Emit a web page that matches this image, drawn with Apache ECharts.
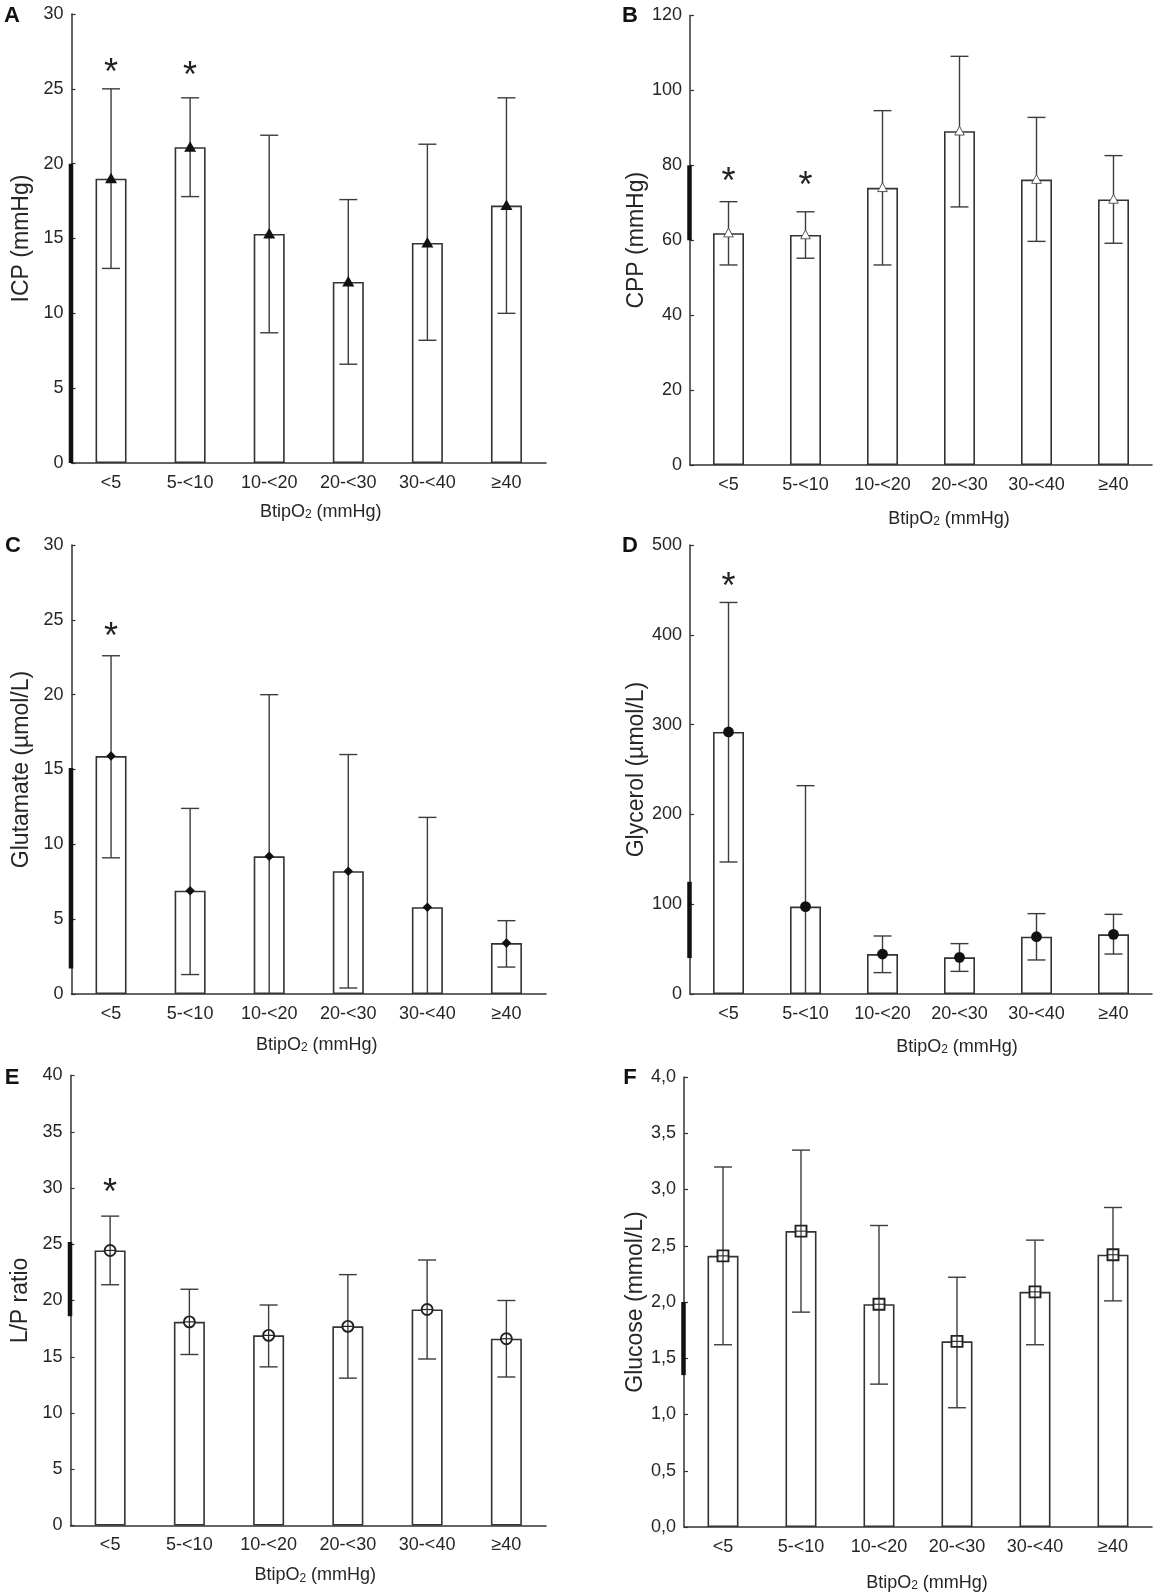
<!DOCTYPE html>
<html>
<head>
<meta charset="utf-8">
<script src="https://cdn.jsdelivr.net/npm/echarts/dist/echarts.min.js"></script>
<style>
html,body{margin:0;padding:0;background:#fff;}
#chart{width:1158px;height:1593px;}
</style>
</head>
<body>
<div id="chart"></div>
<script>
// ---------------- DATA ----------------
const categories = ['<5', '5-<10', '10-<20', '20-<30', '30-<40', '≥40'];

const icpMean  = [19.0, 21.1, 15.3, 12.1, 14.7, 17.2];
const icpUpper = [25.0, 24.4, 21.9, 17.6, 21.3, 24.4];
const icpLower = [13.0, 17.8, 8.7, 6.6, 8.2, 10.0];
const icpStar  = [26.6, 26.4, null, null, null, null];
const icpRange = [0, 20];

const cppMean  = [61.9, 61.4, 74.0, 89.1, 76.2, 70.9];
const cppUpper = [70.3, 67.6, 94.6, 109.1, 92.8, 82.6];
const cppLower = [53.4, 55.2, 53.4, 68.9, 59.7, 59.2];
const cppStar  = [77.7, 76.8, null, null, null, null];
const cppRange = [60, 80];

const gluMean  = [15.9, 6.9, 9.2, 8.2, 5.8, 3.4];
const gluUpper = [22.6, 12.4, 20.0, 16.0, 11.8, 4.9];
const gluLower = [9.1, 1.3, null, 0.4, null, 1.8];
const gluStar  = [24.4, null, null, null, null, null];
const gluRange = [1.7, 15.1];

const glyMean  = [291.8, 97.3, 44.5, 40.8, 63.8, 66.4];
const glyUpper = [436, 232, 64.6, 56.1, 89.5, 88.7];
const glyLower = [147, null, 23.8, 25.2, 37.9, 44.5];
const glyStar  = [462, null, null, null, null, null];
const glyRange = [40, 125];

const lpMean  = [24.45, 18.1, 16.9, 17.7, 19.2, 16.6];
const lpUpper = [27.5, 21.0, 19.6, 22.3, 23.6, 20.0];
const lpLower = [21.4, 15.2, 14.1, 13.1, 14.8, 13.2];
const lpStar  = [30.3, null, null, null, null, null];
const lpRange = [18.6, 25.2];

const glcMean  = [2.41, 2.63, 1.98, 1.65, 2.09, 2.42];
const glcUpper = [3.20, 3.35, 2.68, 2.22, 2.55, 2.84];
const glcLower = [1.62, 1.91, 1.27, 1.06, 1.62, 2.01];
const glcStar  = [null, null, null, null, null, null];
const glcRange = [1.35, 2.0];

const xTitle = '{a|BtipO}{s|2}{a| (mmHg)}';

// ---------------- LAYOUT ----------------
const FONT = 'Liberation Sans, Arial, Helvetica, sans-serif';
const TXT = '#262626';
const AX = '#333333';

const panels = [
  {letter:'A', lx:12, ly:16, grid:{left:71.5, top:14, width:474.5, height:449},
   max:30, interval:5, yName:'ICP (mmHg)', yGap:38, xGap:40, xDx:12,
   mean:icpMean, upper:icpUpper, lower:icpLower, star:icpStar, range:icpRange, marker:'triFilled'},
  {letter:'B', lx:630, ly:16, grid:{left:690, top:15.5, width:462, height:449.5},
   max:120, interval:20, yName:'CPP (mmHg)', yGap:36, xGap:45, xDx:28,
   mean:cppMean, upper:cppUpper, lower:cppLower, star:cppStar, range:cppRange, marker:'triOpen'},
  {letter:'C', lx:13, ly:546, grid:{left:71.5, top:545, width:474.5, height:449},
   max:30, interval:5, yName:'Glutamate (µmol/L)', yGap:38, xGap:42, xDx:8,
   mean:gluMean, upper:gluUpper, lower:gluLower, star:gluStar, range:gluRange, marker:'diamond'},
  {letter:'D', lx:630, ly:546, grid:{left:690, top:545, width:462, height:449},
   max:500, interval:100, yName:'Glycerol (µmol/L)', yGap:36, xGap:44, xDx:36,
   mean:glyMean, upper:glyUpper, lower:glyLower, star:glyStar, range:glyRange, marker:'circle'},
  {letter:'E', lx:12, ly:1078, grid:{left:70.5, top:1075.5, width:475.5, height:450},
   max:40, interval:5, yName:'L/P ratio', yGap:38, xGap:41, xDx:7,
   mean:lpMean, upper:lpUpper, lower:lpLower, star:lpStar, range:lpRange, marker:'circlePlus'},
  {letter:'F', lx:630, ly:1078, grid:{left:684, top:1077, width:468, height:450},
   max:4, interval:0.5, yName:'Glucose (mmol/L)', yGap:32, xGap:47, xDx:9, comma:true,
   mean:glcMean, upper:glcUpper, lower:glcLower, star:glcStar, range:glcRange, marker:'squarePlus'}
];

// ---------------- RENDERERS ----------------
function errorRender(params, api) {
  const i = api.value(0);
  const x = api.coord([i, 0])[0];
  const yU = api.coord([i, api.value(2)])[1];
  const yL = api.coord([i, api.value(1)])[1];
  const hasLow = api.value(3) === 1;
  const half = 9;
  const st = {stroke:'#3c3c3c', lineWidth:1.4};
  const ch = [
    {type:'line', shape:{x1:x, y1:yU, x2:x, y2:yL}, style:st},
    {type:'line', shape:{x1:x-half, y1:yU, x2:x+half, y2:yU}, style:st}
  ];
  if (hasLow) ch.push({type:'line', shape:{x1:x-half, y1:yL, x2:x+half, y2:yL}, style:st});
  return {type:'group', children:ch};
}

function markerRenderer(kind) {
  return function (params, api) {
    const p = api.coord([api.value(0), api.value(1)]);
    const x = p[0], y = p[1];
    if (kind === 'triFilled') {
      return {type:'polygon', shape:{points:[[x, y-6],[x-6, y+4.5],[x+6, y+4.5]]}, style:{fill:'#111'}};
    }
    if (kind === 'triOpen') {
      return {type:'polygon', shape:{points:[[x, y-5],[x-4.8, y+3.8],[x+4.8, y+3.8]]}, style:{fill:'#fff', stroke:'#555', lineWidth:1}};
    }
    if (kind === 'diamond') {
      return {type:'polygon', shape:{points:[[x, y-4.8],[x+4.8, y],[x, y+4.8],[x-4.8, y]]}, style:{fill:'#111'}};
    }
    if (kind === 'circle') {
      return {type:'circle', shape:{cx:x, cy:y, r:5.4}, style:{fill:'#111'}};
    }
    if (kind === 'circlePlus') {
      return {type:'group', children:[
        {type:'circle', shape:{cx:x, cy:y, r:5.5}, style:{fill:'#fff', stroke:'#222', lineWidth:1.9}},
        {type:'line', shape:{x1:x-5, y1:y, x2:x+5, y2:y}, style:{stroke:'#222', lineWidth:1.2}},
        {type:'line', shape:{x1:x, y1:y-5, x2:x, y2:y+5}, style:{stroke:'#222', lineWidth:1.2}}
      ]};
    }
    if (kind === 'squarePlus') {
      return {type:'group', children:[
        {type:'rect', shape:{x:x-5.5, y:y-5.5, width:11, height:11}, style:{fill:'#fff', stroke:'#222', lineWidth:1.9}},
        {type:'line', shape:{x1:x-5, y1:y, x2:x+5, y2:y}, style:{stroke:'#222', lineWidth:1.1}},
        {type:'line', shape:{x1:x, y1:y-5, x2:x, y2:y+5}, style:{stroke:'#222', lineWidth:1.1}}
      ]};
    }
    return null;
  };
}

const STAR_SIZE = 36;
function starRender(params, api) {
  const p = api.coord([api.value(0), api.value(1)]);
  return {type:'text', x:p[0], y:p[1] + STAR_SIZE * 0.26,
    style:{text:'*', fill:'#222', font:'normal ' + STAR_SIZE + 'px ' + FONT, align:'center', verticalAlign:'middle'}};
}

function rangeRender(params, api) {
  const cs = params.coordSys;
  const y1 = api.coord([0, api.value(0)])[1];
  const y2 = api.coord([0, api.value(1)])[1];
  return {type:'line', shape:{x1:cs.x - 0.5, y1:y1, x2:cs.x - 0.5, y2:y2}, style:{stroke:'#111', lineWidth:4.5}};
}

// ---------------- OPTION ----------------
const grids = [], xAxes = [], yAxes = [], series = [], graphics = [];

panels.forEach((p, k) => {
  grids.push(Object.assign({containLabel:false}, p.grid));
  xAxes.push({
    type:'category', gridIndex:k, data:categories, boundaryGap:true,
    axisLine:{lineStyle:{color:AX, width:1.5}},
    axisTick:{show:true, inside:true, alignWithLabel:true, length:4, lineStyle:{color:AX, width:1.2}},
    axisLabel:{color:TXT, fontSize:18, fontFamily:FONT, margin:11, interval:0},
    name:xTitle, nameLocation:'middle', nameGap:p.xGap,
    nameTextStyle:{color:TXT, fontSize:18, fontFamily:FONT, padding:[0,0,0,2*p.xDx],
      rich:{a:{fontSize:18, fontFamily:FONT, color:TXT},
            s:{fontSize:12, fontFamily:FONT, color:TXT, verticalAlign:'bottom'}}}
  });
  yAxes.push({
    type:'value', gridIndex:k, min:0, max:p.max, interval:p.interval,
    splitLine:{show:false},
    axisLine:{show:true, lineStyle:{color:AX, width:1.5}},
    axisTick:{show:true, inside:true, length:4, lineStyle:{color:AX, width:1.2}},
    axisLabel:{color:TXT, fontSize:18, fontFamily:FONT, margin:8,
      formatter: p.comma ? (v => v.toFixed(1).replace('.', ',')) : (v => String(v))},
    name:p.yName, nameLocation:'middle', nameGap:p.yGap, nameRotate:90,
    nameTextStyle:{color:TXT, fontSize:23, fontFamily:FONT}
  });

  series.push({
    type:'bar', xAxisIndex:k, yAxisIndex:k, data:p.mean, barWidth:31, z:2,
    itemStyle:{color:'#fff', borderColor:'#333', borderWidth:1.6}
  });
  series.push({
    type:'custom', xAxisIndex:k, yAxisIndex:k, z:3, renderItem:errorRender,
    encode:{x:0, y:[1,2]},
    data:categories.map((c, i) => [i, p.lower[i] == null ? 0 : p.lower[i], p.upper[i], p.lower[i] == null ? 0 : 1])
  });
  series.push({
    type:'custom', xAxisIndex:k, yAxisIndex:k, z:4, renderItem:markerRenderer(p.marker),
    encode:{x:0, y:1},
    data:categories.map((c, i) => [i, p.mean[i]])
  });
  const stars = [];
  p.star.forEach((v, i) => { if (v != null) stars.push([i, v]); });
  if (stars.length) {
    series.push({
      type:'custom', xAxisIndex:k, yAxisIndex:k, z:4, renderItem:starRender,
      encode:{x:0, y:1}, data:stars
    });
  }
  series.push({
    type:'custom', xAxisIndex:k, yAxisIndex:k, z:6, renderItem:rangeRender,
    encode:{y:[0,1]}, data:[[p.range[0], p.range[1]]]
  });

  graphics.push({
    type:'text', x:p.lx, y:p.ly, z:10,
    style:{text:p.letter, font:'bold 22px ' + FONT, fill:'#111', align:'center', verticalAlign:'middle'}
  });
});

const chart = echarts.init(document.getElementById('chart'), null, {renderer:'canvas'});
chart.setOption({
  animation:false,
  backgroundColor:'#ffffff',
  grid:grids, xAxis:xAxes, yAxis:yAxes, series:series, graphic:graphics
});
</script>
</body>
</html>
